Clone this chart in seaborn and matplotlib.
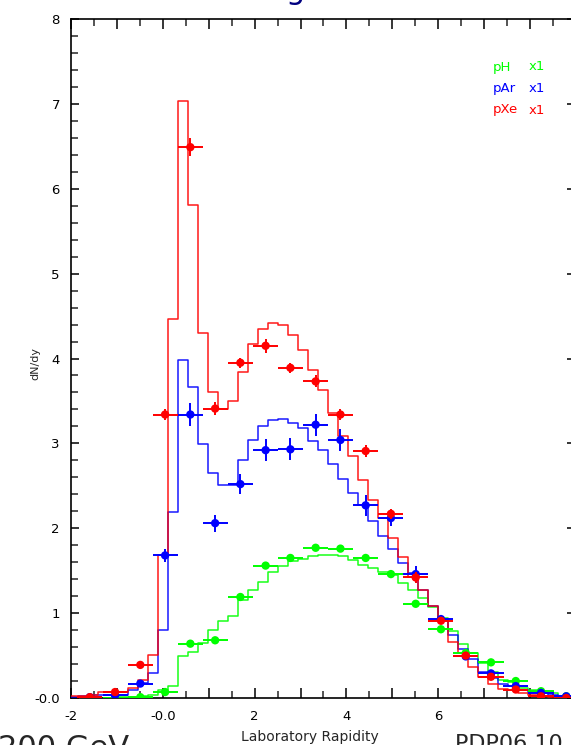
import numpy as np
import pandas as pd
import matplotlib
matplotlib.use("Agg")
import matplotlib.pyplot as plt
import seaborn as sns
from matplotlib.ticker import FixedLocator, MultipleLocator, FixedFormatter

# ---------------- data ----------------
systems = ["pH", "pAr", "pXe"]
scale_labels = ["x1", "x1", "x1"]
series_colors = ["#00ff00", "#0000ff", "#ff0000"]

rapidity_edges = [-2.072, -1.854, -1.636, -1.418, -1.200, -0.983, -0.765, -0.547,
                  -0.329, -0.111, 0.107, 0.325, 0.543, 0.761, 0.979, 1.197, 1.414,
                  1.632, 1.850, 2.068, 2.286, 2.504, 2.722, 2.940, 3.158, 3.376,
                  3.593, 3.811, 4.029, 4.247, 4.465, 4.683, 4.901, 5.119, 5.337,
                  5.555, 5.772, 5.990, 6.208, 6.426, 6.644, 6.862, 7.080, 7.298,
                  7.516, 7.734, 7.951, 8.169, 8.387, 8.605, 8.823]

model_pH = [0.0, 0.0, 0.0, 0.0, 0.005, 0.01, 0.01, 0.02, 0.04, 0.10,
            0.14, 0.49, 0.54, 0.65, 0.80, 0.91, 0.97, 1.15, 1.27, 1.37,
            1.48, 1.56, 1.61, 1.64, 1.67, 1.68, 1.68, 1.67, 1.63, 1.57,
            1.53, 1.49, 1.45, 1.35, 1.27, 1.18, 1.07, 0.94, 0.79, 0.64,
            0.53, 0.41, 0.31, 0.21, 0.19, 0.12, 0.10, 0.07, 0.055, 0.02]
model_pAr = [0.01, 0.02, 0.03, 0.04, 0.04, 0.04, 0.09, 0.18, 0.29, 0.80,
             2.19, 3.98, 3.66, 2.99, 2.65, 2.51, 2.51, 2.81, 3.04, 3.21,
             3.28, 3.29, 3.24, 3.18, 3.03, 2.92, 2.76, 2.58, 2.42, 2.27,
             2.08, 1.91, 1.76, 1.59, 1.47, 1.27, 1.08, 0.92, 0.74, 0.58,
             0.46, 0.31, 0.24, 0.165, 0.14, 0.094, 0.068, 0.055, 0.03, 0.02]
model_pXe = [0.02, 0.02, 0.03, 0.07, 0.07, 0.07, 0.12, 0.21, 0.51, 1.68,
             4.46, 7.03, 5.81, 4.30, 3.61, 3.41, 3.50, 3.84, 4.17, 4.35,
             4.42, 4.40, 4.28, 4.10, 3.87, 3.63, 3.36, 3.09, 2.85, 2.57,
             2.33, 2.12, 1.88, 1.66, 1.43, 1.27, 1.08, 0.91, 0.66, 0.53,
             0.37, 0.25, 0.17, 0.11, 0.09, 0.055, 0.036, 0.025, 0.012, 0.005]

data_rapidity = [-1.59, -1.04, -0.49, 0.05, 0.60, 1.14, 1.69, 2.24, 2.78, 3.33,
                 3.87, 4.42, 4.97, 5.51, 6.06, 6.60, 7.15, 7.69, 8.24, 8.79]
data_halfwidth = 0.273
data_pH = [0.0, 0.0, 0.01, 0.07, 0.64, 0.68, 1.19, 1.56, 1.65, 1.77,
           1.76, 1.65, 1.46, 1.11, 0.81, 0.53, 0.42, 0.20, 0.08, 0.02]
data_pAr = [0.01, 0.03, 0.17, 1.68, 3.34, 2.06, 2.52, 2.92, 2.93, 3.22,
            3.04, 2.27, 2.12, 1.46, 0.93, 0.49, 0.29, 0.14, 0.06, 0.02]
data_pXe = [0.01, 0.07, 0.39, 3.34, 6.49, 3.41, 3.95, 4.15, 3.89, 3.73,
            3.34, 2.91, 2.17, 1.42, 0.91, 0.50, 0.25, 0.10, 0.02, 0.0]
err_pH = [0.01] * 20
err_pAr = [0.02, 0.02, 0.03, 0.08, 0.13, 0.10, 0.12, 0.13, 0.13, 0.13,
           0.13, 0.12, 0.09, 0.10, 0.05, 0.04, 0.03, 0.02, 0.01, 0.01]
err_pXe = [0.02, 0.02, 0.03, 0.06, 0.11, 0.08, 0.06, 0.08, 0.06, 0.07,
           0.07, 0.07, 0.06, 0.06, 0.04, 0.03, 0.02, 0.02, 0.01, 0.01]

xtick_values = [-2, 0, 2, 4, 6]
xtick_labels = ["-2", "-0.0", "2", "4", "6"]
ytick_values = [0, 1, 2, 3, 4, 5, 6, 7, 8]
ytick_labels = ["-0.0", "1", "2", "3", "4", "5", "6", "7", "8"]

x_title = "Laboratory Rapidity"
y_title = "dN/dy"
footer_left = "200 GeV"
footer_right = "PDP06 10"
title_text = "g"

# ---------------- tables ----------------
centers = [(a + b) / 2 for a, b in zip(rapidity_edges[:-1], rapidity_edges[1:])]
models = {"pH": model_pH, "pAr": model_pAr, "pXe": model_pXe}
datas = {"pH": (data_pH, err_pH), "pAr": (data_pAr, err_pAr), "pXe": (data_pXe, err_pXe)}

sns.set_theme(style="ticks")
plt.rcParams["font.family"] = ["DejaVu Sans"]
plt.rcParams["axes.linewidth"] = 1.2

W, H = 571, 745
fig = plt.figure(figsize=(W / 100, H / 100), dpi=100)
fig.patch.set_facecolor("white")
ax = fig.add_axes([71 / W, 1 - 698 / H, (575 - 71) / W, (698 - 19) / H])
ax.set_facecolor("white")

for i, (name, col) in enumerate(zip(systems, series_colors)):
    df = pd.DataFrame({"rapidity": centers, "dNdy": models[name]})
    sns.histplot(data=df, x="rapidity", weights="dNdy", bins=rapidity_edges,
                 element="step", fill=False, color=col, linewidth=1.1,
                 alpha=0.9, ax=ax, zorder=2 + i)

for i, (name, col) in enumerate(zip(systems, series_colors)):
    vals, errs = datas[name]
    ax.errorbar(data_rapidity, vals, xerr=data_halfwidth, yerr=errs, fmt="none",
                ecolor=col, elinewidth=1.4, capsize=0, zorder=6 + i)
    dfp = pd.DataFrame({"rapidity": data_rapidity, "dNdy": vals})
    sns.scatterplot(data=dfp, x="rapidity", y="dNdy", color=col, s=36,
                    edgecolor="none", ax=ax, zorder=6.5 + i)

ax.set_xlim(-2, -2 + (575 - 71) / 45.9)
ax.set_ylim(0, 8)
ax.set_xlabel("")
ax.set_ylabel("")

ax.xaxis.set_major_locator(MultipleLocator(1))
ax.xaxis.set_minor_locator(MultipleLocator(0.5))
ax.xaxis.set_major_formatter(
    matplotlib.ticker.FuncFormatter(
        lambda v, p: xtick_labels[xtick_values.index(int(round(v)))]
        if abs(v - round(v)) < 1e-6 and int(round(v)) in xtick_values else ""))
ax.yaxis.set_major_locator(FixedLocator(ytick_values))
ax.yaxis.set_major_formatter(FixedFormatter(ytick_labels))
ax.yaxis.set_minor_locator(MultipleLocator(0.2))

ax.tick_params(axis="x", which="major", direction="in", length=7.2, width=1.1,
               top=True, bottom=True, labelsize=9.5, pad=9, colors="black")
ax.tick_params(axis="x", which="minor", direction="in", length=5, width=1.1,
               top=True, bottom=True)
ax.tick_params(axis="y", which="major", direction="in", length=5.8, width=1.1,
               left=True, right=True, labelsize=9.5, pad=8, colors="black")
ax.tick_params(axis="y", which="minor", direction="in", length=5, width=1.1,
               left=True, right=False)
for s in ax.spines.values():
    s.set_color("black")
    s.set_visible(True)

# legend as coloured text
for i, (name, sc, col) in enumerate(zip(systems, scale_labels, series_colors)):
    yy = 1 - (67 + 21.5 * i) / H
    fig.text(493 / W, yy, name, color=col, fontsize=9.5, va="center", ha="left")
    fig.text(529 / W, yy, sc, color=col, fontsize=9.5, va="center", ha="left")

fig.text(35 / W, 1 - 364 / H, y_title, rotation=90, fontsize=8, va="center", ha="center")
fig.text(310 / W, 1 - 741 / H, x_title, fontsize=10, va="baseline", ha="center", zorder=5)
fig.text(-2 / W, 1 - 757 / H, footer_left, fontsize=22, va="baseline", ha="left")
fig.text(455 / W, 1 - 750 / H, footer_right, fontsize=16, va="baseline", ha="left")
fig.text(295 / W, 1 + 1 / H, title_text, fontsize=22, color="#000080", va="baseline", ha="center")

fig.savefig("out.png", dpi=100)
